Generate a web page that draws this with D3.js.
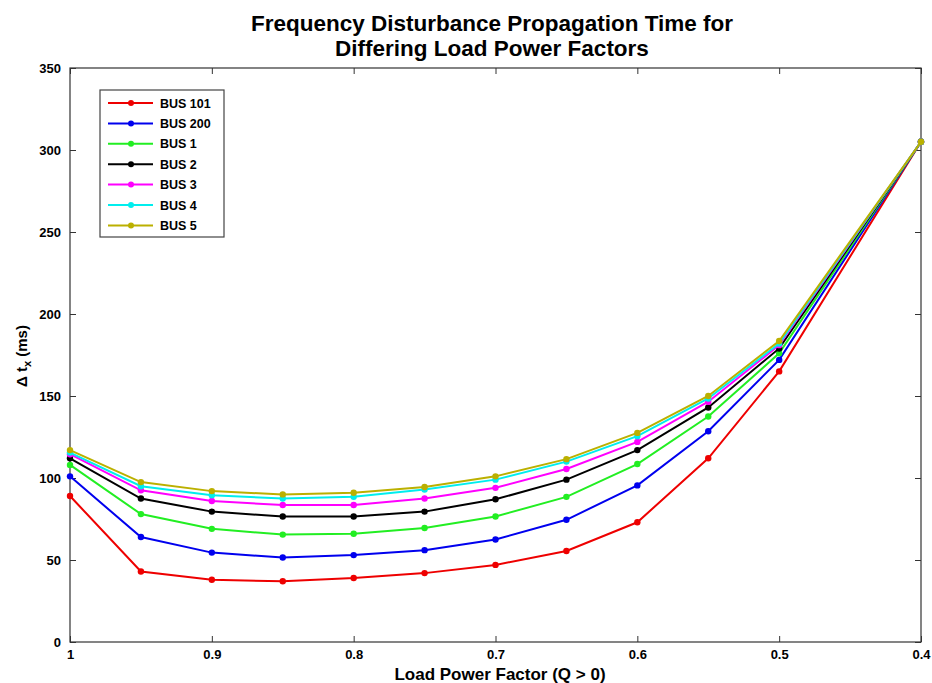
<!DOCTYPE html>
<html>
<head>
<meta charset="utf-8">
<script src="https://cdn.jsdelivr.net/npm/d3@7"></script>
<style>
  body { margin: 0; background: #fff; }
  svg text { font-family: "Liberation Sans", Arial, sans-serif; font-weight: bold; }
</style>
</head>
<body>
<div class="chart"></div>
<script>
var powerFactor = [1, 0.95, 0.9, 0.85, 0.8, 0.75, 0.7, 0.65, 0.6, 0.55, 0.5, 0.4];
var bus101 = [89, 43, 38, 37, 39, 42, 47, 55.5, 73, 112, 165, 305];
var bus200 = [101, 64, 54.5, 51.5, 53, 56, 62.5, 74.5, 95.5, 128.5, 172, 305];
var bus1 = [108, 78, 69, 65.5, 66, 69.5, 76.5, 88.5, 108.5, 137.5, 176, 305];
var bus2 = [112, 87.5, 79.5, 76.5, 76.5, 79.5, 87, 99, 117, 143, 179, 305];
var bus3 = [114.5, 92.5, 86, 83.5, 83.5, 87.5, 94, 105.5, 122, 146.5, 181, 305];
var bus4 = [115.5, 95, 89.5, 87.5, 88.5, 93, 99, 110, 125.5, 148.5, 182, 305];
var bus5 = [117, 97.5, 92, 90, 91, 94.5, 101, 111.5, 127.5, 150, 183.5, 305];
var seriesNames = ["BUS 101", "BUS 200", "BUS 1", "BUS 2", "BUS 3", "BUS 4", "BUS 5"];
var seriesColors = ["#ee0000", "#0000ee", "#22ee22", "#000000", "#ff00ff", "#00eeee", "#bbb000"];
var xTicks = [1, 0.9, 0.8, 0.7, 0.6, 0.5, 0.4];
var yTicks = [0, 50, 100, 150, 200, 250, 300, 350];

var w = 932,
	h = 683,
	padLeft = 70,
	padRight = 921,
	padTop = 68,
	padBottom = 642;

var allSeries = [bus101, bus200, bus1, bus2, bus3, bus4, bus5];

var svg = d3.select(".chart").append("svg").attr("width", w).attr("height", h);

var xScale = d3.scaleLinear().domain([1, 0.4]).range([padLeft, padRight]);
var yScale = d3.scaleLinear().domain([0, 350]).range([padBottom, padTop]);

// box
svg.append("rect")
	.attr("x", padLeft).attr("y", padTop)
	.attr("width", padRight - padLeft).attr("height", padBottom - padTop)
	.attr("fill", "none").attr("stroke", "#333").attr("stroke-width", 1.2);

// axes, ticks pointing inward
var xAxis = d3.axisBottom(xScale).tickValues(xTicks).tickSize(-6).tickPadding(8)
	.tickFormat(d3.format("~g"));
var yAxis = d3.axisLeft(yScale).tickValues(yTicks).tickSize(-6).tickPadding(9);

svg.append("g").attr("id", "x-axis")
	.attr("transform", "translate(0," + padBottom + ")")
	.call(xAxis);
svg.append("g")
	.attr("transform", "translate(0," + padTop + ")")
	.call(d3.axisTop(xScale).tickValues(xTicks).tickSize(-6).tickFormat(""));
svg.append("g").attr("id", "y-axis")
	.attr("transform", "translate(" + padLeft + ",0)")
	.call(yAxis);
svg.append("g")
	.attr("transform", "translate(" + padRight + ",0)")
	.call(d3.axisRight(yScale).tickValues(yTicks).tickSize(-6).tickFormat(""));

svg.selectAll(".domain").remove();
svg.selectAll(".tick line").attr("stroke", "#333");
svg.selectAll(".tick text").attr("font-size", 13).attr("fill", "#000")
	.style("font-family", "'Liberation Sans', Arial, sans-serif").style("font-weight", "bold");

// lines
var line = d3.line()
	.x((d, i) => xScale(powerFactor[i]))
	.y((d) => yScale(d));

allSeries.forEach(function (vals, k) {
	var g = svg.append("g");
	g.append("path")
		.attr("d", line(vals))
		.attr("fill", "none")
		.attr("stroke", seriesColors[k])
		.attr("stroke-width", 2);
	g.selectAll("circle")
		.data(vals)
		.enter()
		.append("circle")
		.attr("cx", (d, i) => xScale(powerFactor[i]))
		.attr("cy", (d) => yScale(d))
		.attr("r", 3.2)
		.attr("fill", seriesColors[k]);
});

// legend
var legend = svg.append("g");
legend.append("rect")
	.attr("x", 100).attr("y", 90).attr("width", 124).attr("height", 147)
	.attr("fill", "#fff").attr("stroke", "#444").attr("stroke-width", 1.2);
seriesNames.forEach(function (name, k) {
	var y = 103 + k * 20.4;
	legend.append("line")
		.attr("x1", 108).attr("x2", 153).attr("y1", y).attr("y2", y)
		.attr("stroke", seriesColors[k]).attr("stroke-width", 2);
	legend.append("circle")
		.attr("cx", 131).attr("cy", y).attr("r", 3).attr("fill", seriesColors[k]);
	legend.append("text")
		.attr("x", 160).attr("y", y + 4.5)
		.attr("font-size", 12.5)
		.text(name);
});

// title
svg.append("text")
	.attr("x", 492).attr("y", 31)
	.attr("text-anchor", "middle").attr("font-size", 22.5)
	.text("Frequency Disturbance Propagation Time for");
svg.append("text")
	.attr("x", 492).attr("y", 56)
	.attr("text-anchor", "middle").attr("font-size", 22.5)
	.text("Differing Load Power Factors");

// axis labels
svg.append("text")
	.attr("x", 500).attr("y", 680)
	.attr("text-anchor", "middle").attr("font-size", 17)
	.text("Load Power Factor (Q > 0)");

var yl = svg.append("text")
	.attr("transform", "translate(27,356) rotate(-90)")
	.attr("text-anchor", "middle").attr("font-size", 15);
yl.append("tspan").text("\u0394 t");
yl.append("tspan").attr("font-size", 11).attr("dy", 4).text("x");
yl.append("tspan").attr("dy", -4).text(" (ms)");
</script>
</body>
</html>
